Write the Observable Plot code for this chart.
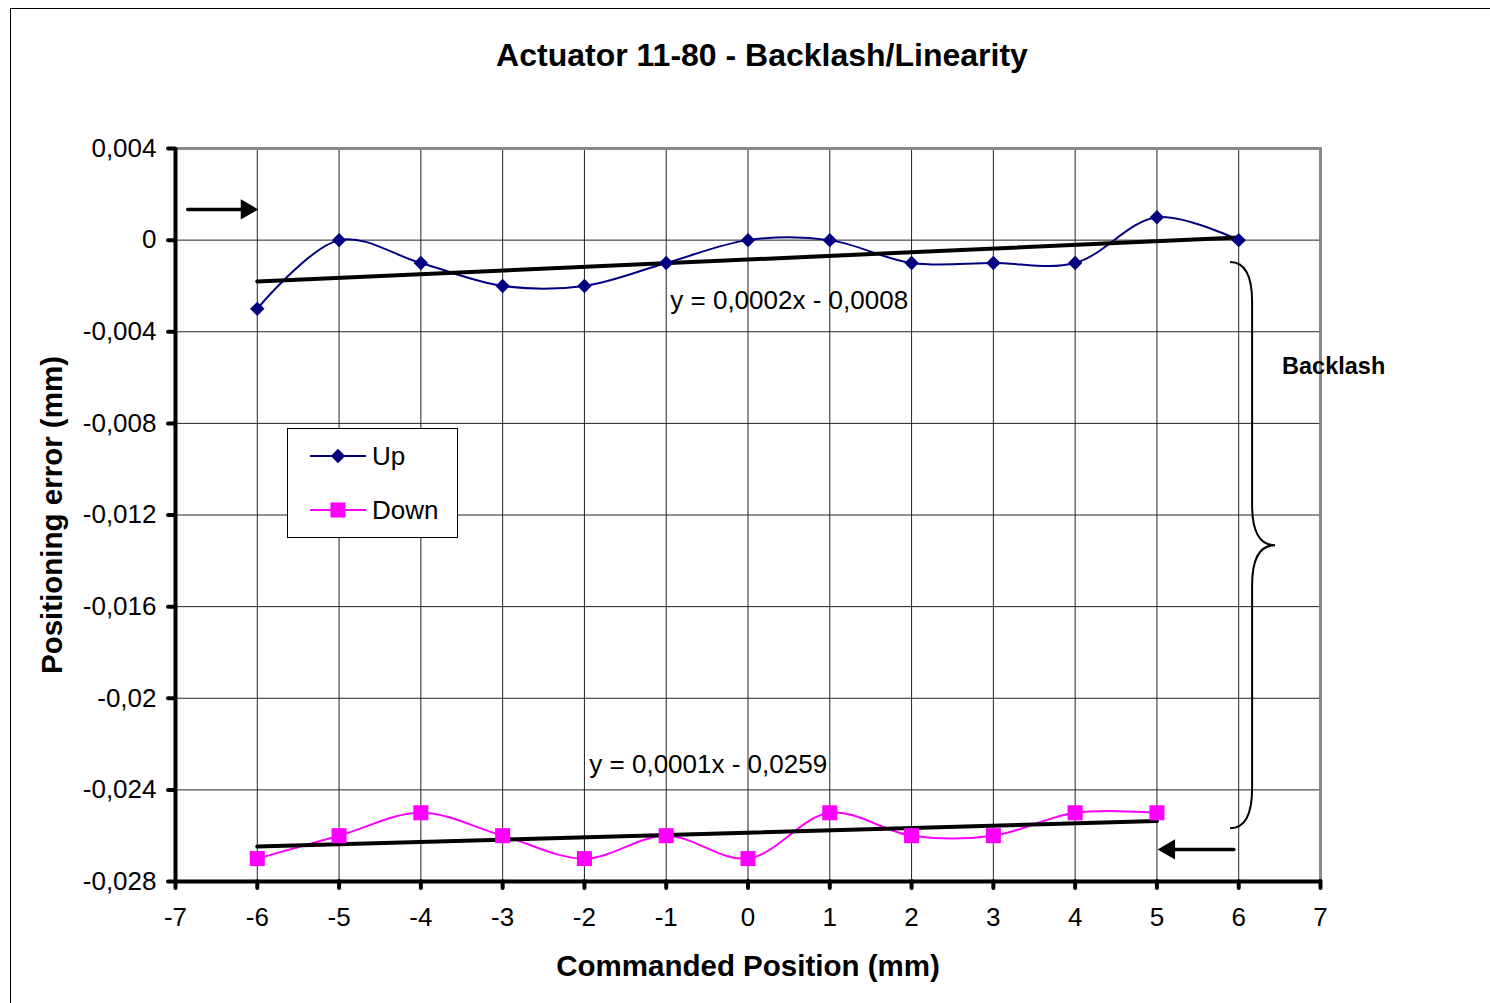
<!DOCTYPE html>
<html><head><meta charset="utf-8">
<script src="https://cdn.jsdelivr.net/npm/d3@7"></script>
<script src="https://cdn.jsdelivr.net/npm/@observablehq/plot@0.6"></script>
<style>
body{margin:0;background:#fff;font-family:"Liberation Sans",Arial,sans-serif;}
#wrap{position:relative;width:1490px;height:1003px;overflow:hidden;background:#fff;}
#border{position:absolute;left:10px;top:8px;width:1600px;height:1100px;border:1px solid #000;box-sizing:border-box;pointer-events:none;}
#title{position:relative;width:1524px;height:100px;box-sizing:border-box;padding-top:37px;line-height:36px;font-size:32px;font-weight:bold;text-align:center;color:#000;}
#legend{position:absolute;left:287px;top:428px;width:171px;height:110px;box-sizing:border-box;border:1px solid #000;background:#fff;font-size:26px;}
#legend .row{position:absolute;left:22px;height:30px;display:flex;align-items:center;}
#legend svg{display:block;margin-right:6px;}
</style>
</head><body>
<div id="wrap">
  <div id="title">Actuator 11-80 - Backlash/Linearity</div>
  <div id="chart"></div>
  <div id="legend"></div>
  <div id="border"></div>
</div>
<script>
// ---- data ----
const upPositions = [-6, -5, -4, -3, -2, -1, 0, 1, 2, 3, 4, 5, 6];
const upErrors = [-0.003, 0, -0.001, -0.002, -0.002, -0.001, 0, 0, -0.001, -0.001, -0.001, 0.001, 0];
const downPositions = [-6, -5, -4, -3, -2, -1, 0, 1, 2, 3, 4, 5];
const downErrors = [-0.027, -0.026, -0.025, -0.026, -0.027, -0.026, -0.027, -0.025, -0.026, -0.026, -0.025, -0.025];
const seriesNames = ["Up", "Down"];
const seriesColors = ["#000080", "#FF00FF"];
const xTicks = [-7, -6, -5, -4, -3, -2, -1, 0, 1, 2, 3, 4, 5, 6, 7];
const yTicks = [0.004, 0, -0.004, -0.008, -0.012, -0.016, -0.02, -0.024, -0.028];
const xTitle = "Commanded Position (mm)";
const yTitle = "Positioning error (mm)";
const equationLabels = ["y = 0,0002x - 0,0008", "y = 0,0001x - 0,0259"];
const equationX = [-0.95, -1.94];
const equationY = [-0.00264, -0.02289];
const arrowStartX = [-6.85, 5.94];
const arrowEndX = [-5.99, 5.01];
const arrowY = [0.00134, -0.0266];
const braceX = [5.9, 6.17, 6.45];      // tips, spine, point
const braceY = [-0.00098, -0.0257];    // top, bottom
const backlashLabel = "Backlash";
const backlashX = 6.53, backlashY = -0.0055;
const yTitleX = -8.5, xTitleY = -0.0317;

// ---- tables ----
const up = upPositions.map((x, i) => ({x, y: upErrors[i]}));
const down = downPositions.map((x, i) => ({x, y: downErrors[i]}));
const eqs = equationLabels.map((t, i) => ({t, x: equationX[i], y: equationY[i]}));
const arrows = arrowStartX.map((x1, i) => ({x1, x2: arrowEndX[i], y: arrowY[i], dir: x1 < arrowEndX[i] ? 1 : -1}));
const arrowsRight = arrows.filter(d => d.dir > 0);
const arrowsLeft = arrows.filter(d => d.dir < 0);

const fmtY = v => String(+v.toFixed(3)).replace(".", ",");
const fmtX = v => String(v);
const FONT = '"Liberation Sans", Arial, sans-serif';

const braceMark = (index, scales) => {
  const sx = scales.x, sy = scales.y;
  const x0 = sx(braceX[0]), xv = sx(braceX[1]), xt = sx(braceX[2]);
  const yT = sy(braceY[0]), yB = sy(braceY[1]), ym = (yT + yB) / 2;
  const r = 40;
  const d = `M${x0},${yT} Q${xv},${yT} ${xv},${yT + r} L${xv},${ym - r} Q${xv},${ym} ${xt},${ym} Q${xv},${ym} ${xv},${ym + r} L${xv},${yB - r} Q${xv},${yB} ${x0},${yB}`;
  const g = d3.create("svg:g");
  g.append("path").attr("d", d).attr("fill", "none").attr("stroke", "#000").attr("stroke-width", 2);
  return g.node();
};

const chart = Plot.plot({
  width: 1490,
  height: 903,
  marginLeft: 175,
  marginRight: 170,
  marginTop: 48,
  marginBottom: 122,
  style: {fontFamily: FONT, fontSize: "26px", color: "#000", background: "#fff", overflow: "visible"},
  x: {domain: [-7, 7], ticks: xTicks},
  y: {domain: [-0.028, 0.004], ticks: yTicks},
  marks: [
    Plot.gridX(xTicks, {stroke: "#222", strokeOpacity: 1, strokeWidth: 1}),
    Plot.gridY(yTicks, {stroke: "#222", strokeOpacity: 1, strokeWidth: 1}),
    Plot.frame({stroke: "#888", strokeWidth: 3}),
    Plot.ruleX([-7], {stroke: "#000", strokeWidth: 4}),
    Plot.ruleY([-0.028], {stroke: "#000", strokeWidth: 4}),
    Plot.axisX(xTicks, {tickSize: 7, tickPadding: 19, strokeWidth: 4, strokeLinecap: "round", fontSize: 26, tickFormat: fmtX, label: null}),
    Plot.axisY(yTicks, {tickSize: 7, tickPadding: 12, strokeWidth: 4, strokeLinecap: "round", fontSize: 26, tickFormat: fmtY, label: null}),
    Plot.line(up, {x: "x", y: "y", stroke: seriesColors[0], strokeWidth: 2, curve: "catmull-rom"}),
    Plot.line(down, {x: "x", y: "y", stroke: seriesColors[1], strokeWidth: 2, curve: "catmull-rom"}),
    Plot.linearRegressionY(up, {x: "x", y: "y", stroke: "#000", strokeWidth: 4, ci: 0, strokeLinecap: "round"}),
    Plot.linearRegressionY(down, {x: "x", y: "y", stroke: "#000", strokeWidth: 4, ci: 0, strokeLinecap: "round"}),
    Plot.dot(up, {x: "x", y: "y", symbol: "diamond2", r: 6.5, fill: seriesColors[0], stroke: "none"}),
    Plot.dot(down, {x: "x", y: "y", symbol: "square", r: 8.5, fill: seriesColors[1], stroke: "none"}),
    Plot.link(arrows, {x1: "x1", x2: d => d.x2 - d.dir * 0.2, y1: "y", y2: "y", stroke: "#000", strokeWidth: 3.5, strokeLinecap: "round"}),
    Plot.dot(arrowsRight, {x: "x2", y: "y", symbol: "triangle", r: 7.5, fill: "#000", stroke: "none", rotate: 90, dx: -11.5}),
    Plot.dot(arrowsLeft, {x: "x2", y: "y", symbol: "triangle", r: 7.5, fill: "#000", stroke: "none", rotate: -90, dx: 11.5}),
    braceMark,
    Plot.text(eqs, {x: "x", y: "y", text: "t", textAnchor: "start", fontSize: 26, fill: "#000"}),
    Plot.text([backlashLabel], {x: backlashX, y: backlashY, text: d => d, textAnchor: "start", fontSize: 23.5, fontWeight: "bold", fill: "#000"}),
    Plot.text([yTitle], {x: yTitleX, y: -0.012, rotate: -90, text: d => d, fontSize: 29.5, fontWeight: "bold", fill: "#000"}),
    Plot.text([xTitle], {x: 0, y: xTitleY, text: d => d, fontSize: 29.5, fontWeight: "bold", fill: "#000"})
  ]
});
document.getElementById("chart").appendChild(chart);

// legend
const legend = document.getElementById("legend");
seriesNames.forEach((name, i) => {
  const row = document.createElement("div");
  row.className = "row";
  row.style.top = (i === 0 ? 12 : 66) + "px";
  const s = d3.create("svg").attr("width", 56).attr("height", 20);
  s.append("line").attr("x1", 0).attr("x2", 56).attr("y1", 10).attr("y2", 10).attr("stroke", seriesColors[i]).attr("stroke-width", 2);
  const sym = i === 0 ? d3.symbolDiamond2 : d3.symbolSquare;
  const size = i === 0 ? Math.PI * 6.5 * 6.5 : Math.PI * 8.5 * 8.5;
  s.append("path").attr("d", d3.symbol(sym, size)()).attr("transform", "translate(28,10)").attr("fill", seriesColors[i]);
  row.appendChild(s.node());
  const t = document.createElement("span");
  t.textContent = name;
  row.appendChild(t);
  legend.appendChild(row);
});
</script>
</body></html>
